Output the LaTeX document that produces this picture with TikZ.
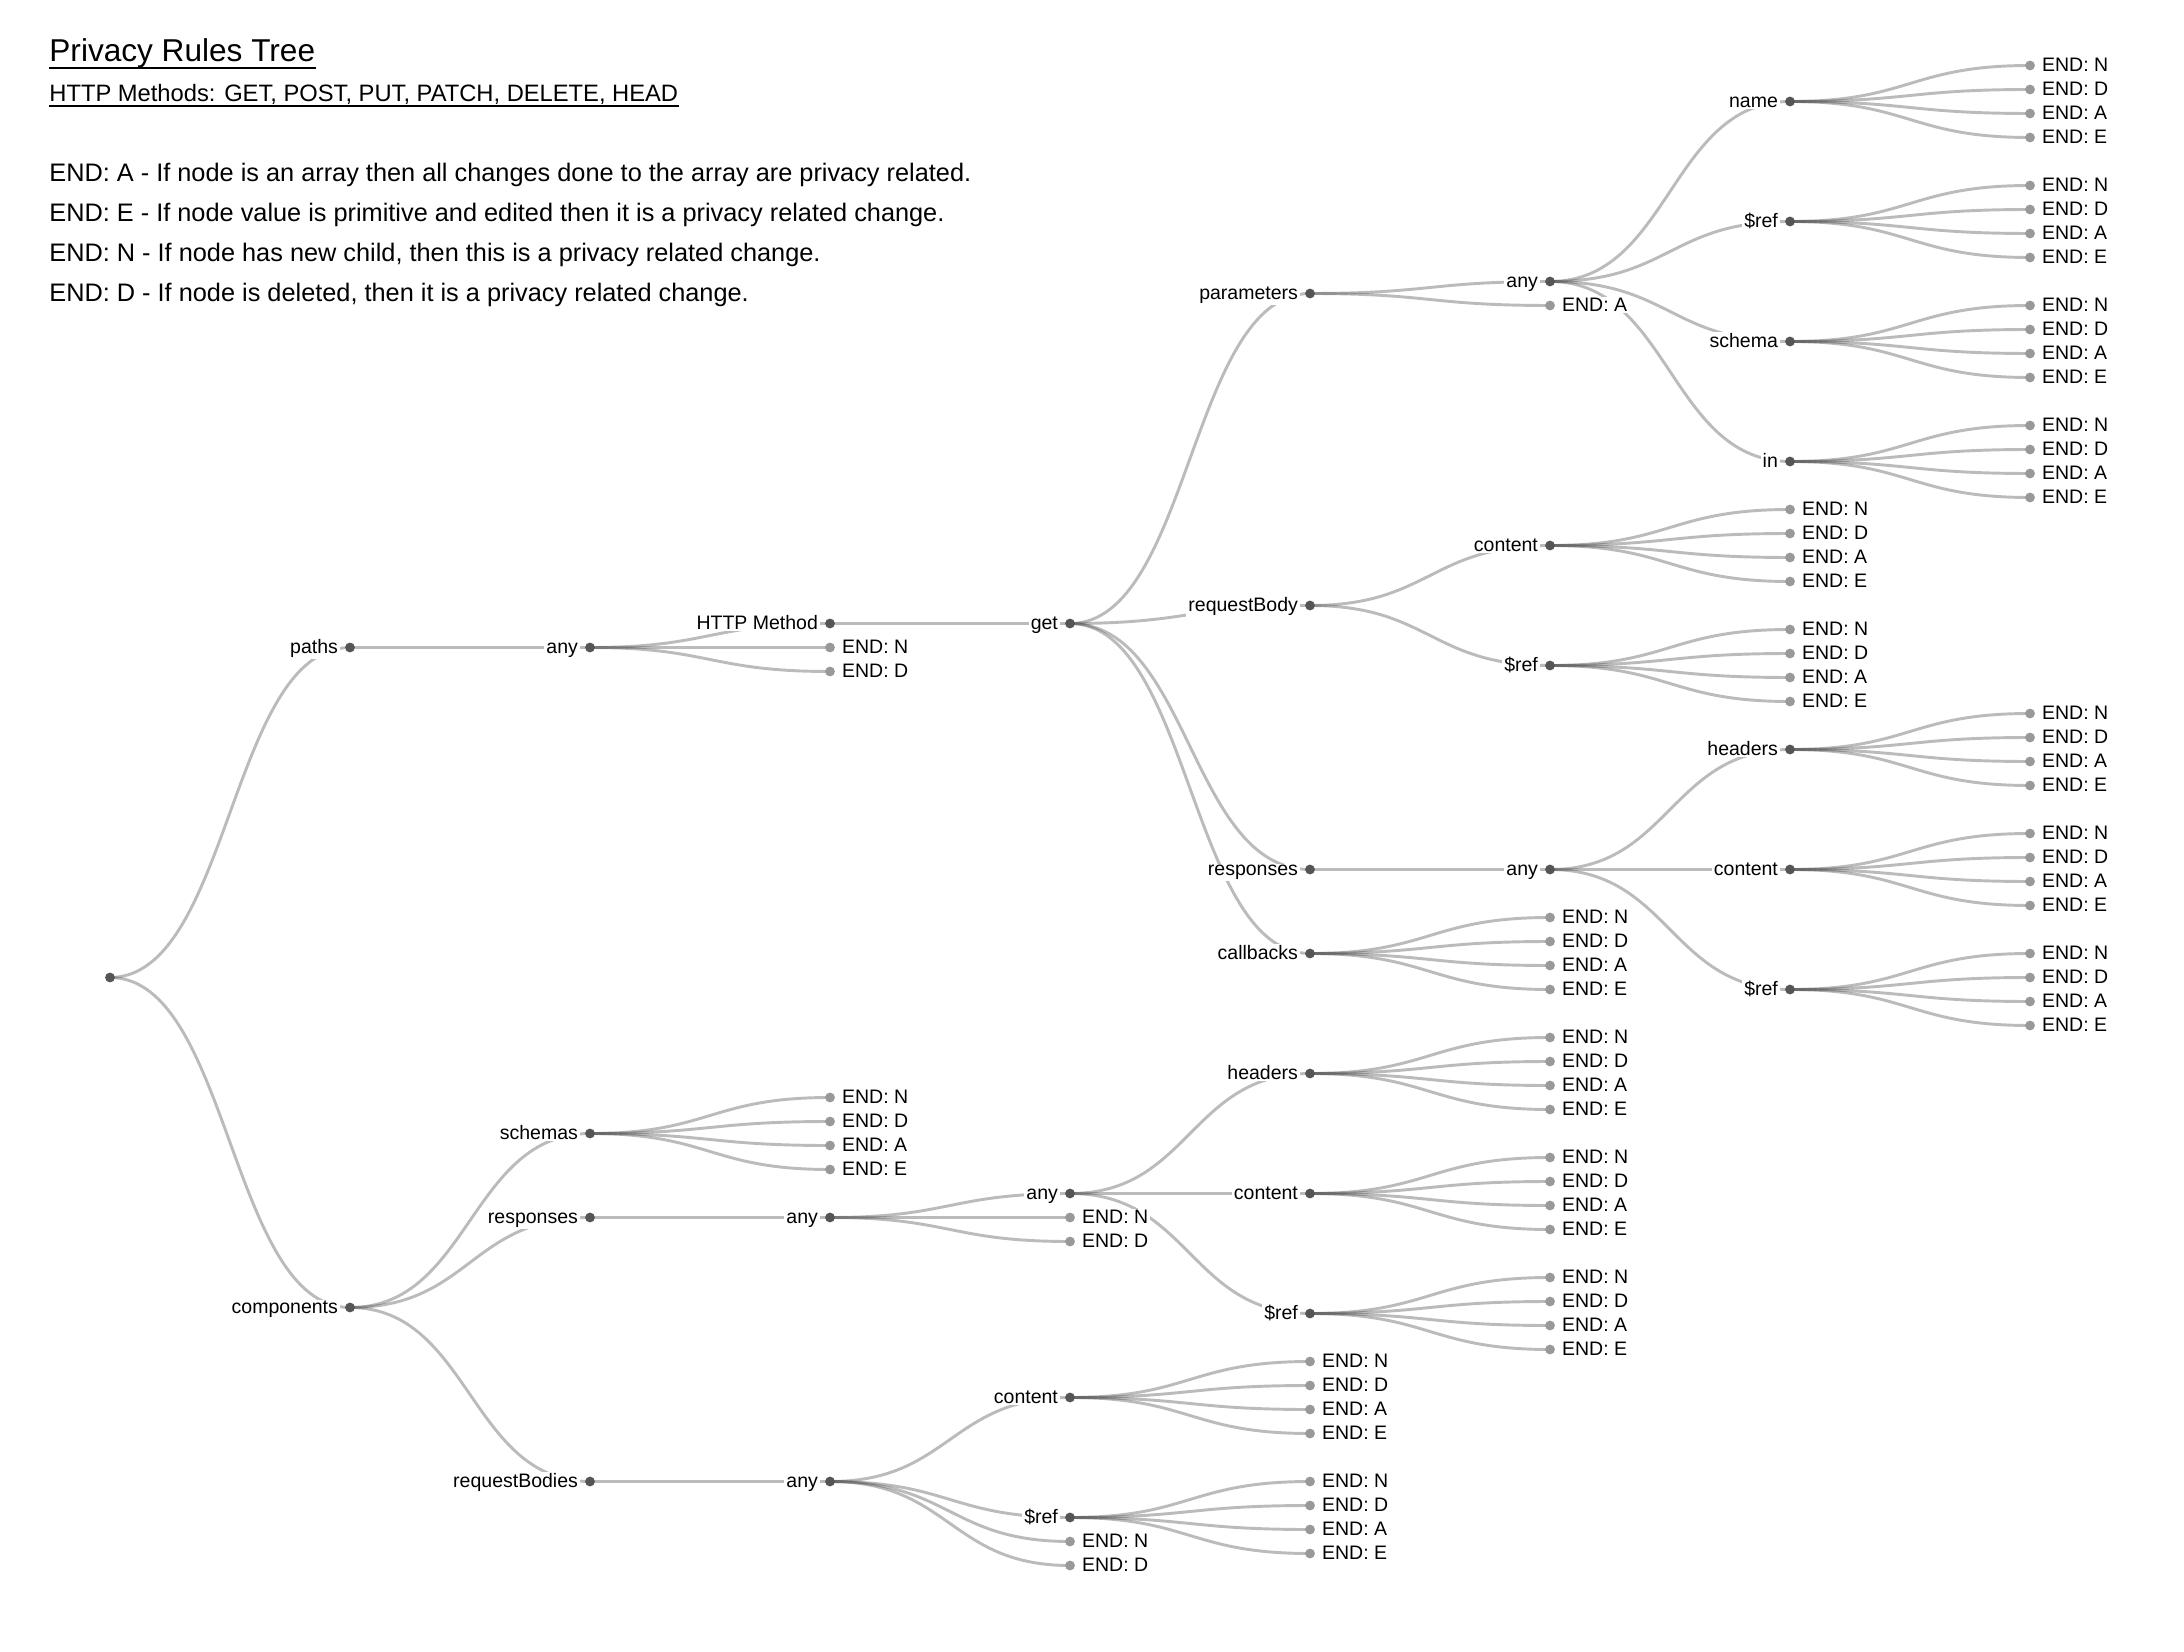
\documentclass[tikz,border=0pt]{standalone}
\usepackage{fontspec}
\setmainfont{Liberation Sans}
\definecolor{knoten}{HTML}{555555}
\definecolor{ende}{HTML}{999999}
\newcommand{\titelfont}{\fontsize{15.8}{19}\selectfont}
\newcommand{\unterfont}{\fontsize{11.86}{14}\selectfont}
\newcommand{\fliessfont}{\fontsize{12.66}{15}\selectfont}
\newcommand{\baumfont}{\fontsize{9.75}{12}\selectfont}
\pgfdeclarelayer{hinten}
\pgfsetlayers{hinten,main}
\tikzset{kopf/.style={anchor=base west,inner sep=0,font=\fliessfont},
  schrift/.style={fill=white,inner xsep=1pt,inner ysep=0.6pt,font=\baumfont},
  ast/.style={circle,fill=knoten,inner sep=0,outer sep=0,minimum size=4.9pt,
    label={[schrift,anchor=base east,xshift=-2.4pt,yshift=-3pt]west:#1}},
  ast/.default={},
  blatt/.style={circle,fill=ende,inner sep=0,outer sep=0,minimum size=4.9pt,
    label={[schrift,anchor=base west,xshift=2.4pt,yshift=-3pt]east:#1}},
  kante/.style={draw=knoten,draw opacity=0.4,line width=1.46pt,
    to path={.. controls +(0.5,0) and +(-0.5,0) .. (\tikztotarget)}}}
% vier Endknoten N, D, A, E unter einem Knoten
\newcommand{\blaetter}[3]{%
  \foreach \e [count=\i from 0] in {N,D,A,E}{%
    \node[blatt=END: \e] (#1-\e) at (#2,#3+\i) {};
    \begin{pgfonlayer}{hinten}\draw[kante] (#1.center) to (#1-\e.center);\end{pgfonlayer}}}

\begin{document}
\begin{tikzpicture}[x=0.5pt,y=-0.5pt]
\useasboundingbox (0,0) rectangle (2184,1652);
\begin{pgfonlayer}{hinten}\fill[white] (0,0) rectangle (2184,1652);\end{pgfonlayer}
% Legende
\node[kopf,font=\titelfont] (titel) at (49,61.7) {Privacy Rules Tree};
\draw[line width=1pt] ([yshift=-3pt]titel.base west) -- ([yshift=-3pt]titel.base east);
\node[kopf,font=\unterfont] (methoden) at (49,101.7) {HTTP Methods: GET, POST, PUT, PATCH, DELETE, HEAD};
\draw[line width=0.75pt] ([yshift=-2.2pt]methoden.base west) -- ([yshift=-2.2pt]methoden.base east);
\node[kopf] (regelA) at (49,181.8) {END: A - If node is an array then all changes done to the array are privacy related.};
\node[kopf] (regelE) at (49,221.7) {END: E - If node value is primitive and edited then it is a privacy related change.};
\node[kopf] (regelN) at (49,261.6) {END: N - If node has new child, then this is a privacy related change.};
\node[kopf] (regelD) at (49,301.5) {END: D - If node is deleted, then it is a privacy related change.};
% Baum: x = Tiefe, y = Zeile
\begin{scope}[shift={(110,65.5)},x=120pt,y=-12pt]
\node[ast] (wurzel) at (0,38) {};
\node[ast=paths] (paths) at (1,24.25) {};
\node[ast=any] (pfany) at (2,24.25) {};
\node[ast=HTTP Method] (methode) at (3,23.25) {};
\node[blatt=END: N] (pfany-N) at (3,24.25) {};
\node[blatt=END: D] (pfany-D) at (3,25.25) {};
\node[ast=get] (get) at (4,23.25) {};
\node[ast=parameters] (param) at (5,9.5) {};
\node[ast=any] (paramany) at (6,9) {};
\node[blatt=END: A] (param-A) at (6,10) {};
\node[ast=name] (pname) at (7,1.5) {};
\node[ast=\$ref] (paramref) at (7,6.5) {};
\node[ast=schema] (schema) at (7,11.5) {};
\node[ast=in] (ort) at (7,16.5) {};
\node[ast=requestBody] (reqbody) at (5,22.5) {};
\node[ast=content] (rbcontent) at (6,20) {};
\node[ast=\$ref] (rbref) at (6,25) {};
\node[ast=responses] (resp) at (5,33.5) {};
\node[ast=any] (respany) at (6,33.5) {};
\node[ast=headers] (resphead) at (7,28.5) {};
\node[ast=content] (respcontent) at (7,33.5) {};
\node[ast=\$ref] (respref) at (7,38.5) {};
\node[ast=callbacks] (callbacks) at (5,37) {};
\node[ast=components] (comp) at (1,51.75) {};
\node[ast=schemas] (schemas) at (2,44.5) {};
\node[ast=responses] (cresp) at (2,48) {};
\node[ast=any] (crany) at (3,48) {};
\node[ast=any] (cranyany) at (4,47) {};
\node[blatt=END: N] (crany-N) at (4,48) {};
\node[blatt=END: D] (crany-D) at (4,49) {};
\node[ast=headers] (crhead) at (5,42) {};
\node[ast=content] (crcontent) at (5,47) {};
\node[ast=\$ref] (crref) at (5,52) {};
\node[ast=requestBodies] (creq) at (2,59) {};
\node[ast=any] (cqany) at (3,59) {};
\node[ast=content] (cqcontent) at (4,55.5) {};
\node[ast=\$ref] (cqref) at (4,60.5) {};
\node[blatt=END: N] (cqany-N) at (4,61.5) {};
\node[blatt=END: D] (cqany-D) at (4,62.5) {};
% Endknoten
\blaetter{pname}{8}{0}
\blaetter{paramref}{8}{5}
\blaetter{schema}{8}{10}
\blaetter{ort}{8}{15}
\blaetter{rbcontent}{7}{18.5}
\blaetter{rbref}{7}{23.5}
\blaetter{resphead}{8}{27}
\blaetter{respcontent}{8}{32}
\blaetter{respref}{8}{37}
\blaetter{callbacks}{6}{35.5}
\blaetter{schemas}{3}{43}
\blaetter{crhead}{6}{40.5}
\blaetter{crcontent}{6}{45.5}
\blaetter{crref}{6}{50.5}
\blaetter{cqcontent}{5}{54}
\blaetter{cqref}{5}{59}
% Kanten
\begin{pgfonlayer}{hinten}
\foreach \a/\b in {wurzel/paths,wurzel/comp,paths/pfany,pfany/methode,pfany/pfany-N,pfany/pfany-D,
    methode/get,get/param,get/reqbody,get/resp,get/callbacks,param/paramany,param/param-A,
    paramany/pname,paramany/paramref,paramany/schema,paramany/ort,reqbody/rbcontent,reqbody/rbref,
    resp/respany,respany/resphead,respany/respcontent,respany/respref,comp/schemas,comp/cresp,comp/creq,
    cresp/crany,crany/cranyany,crany/crany-N,crany/crany-D,cranyany/crhead,cranyany/crcontent,cranyany/crref,
    creq/cqany,cqany/cqcontent,cqany/cqref,cqany/cqany-N,cqany/cqany-D}
  \draw[kante] (\a.center) to (\b.center);
\end{pgfonlayer}
\end{scope}
\end{tikzpicture}
\end{document}
